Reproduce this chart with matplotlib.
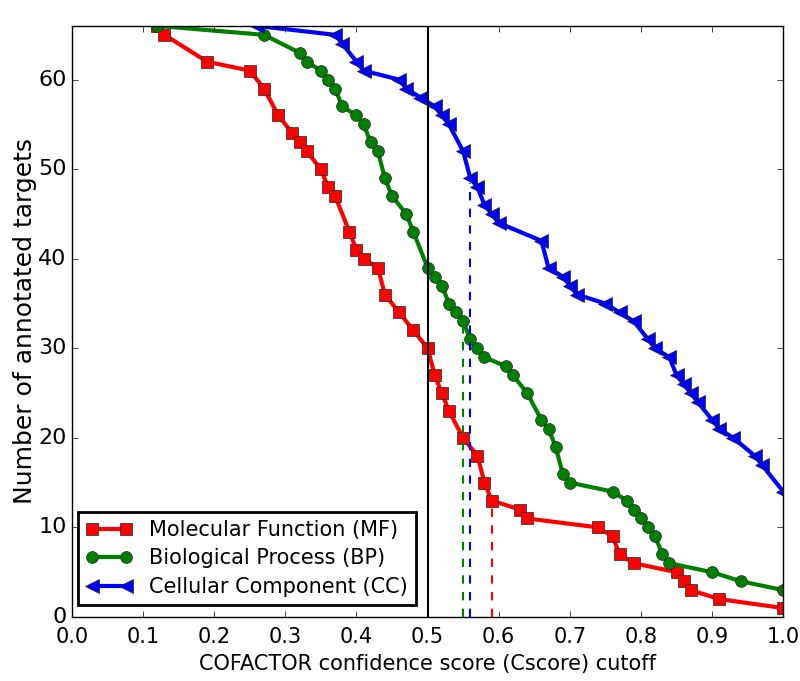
import numpy as np
import matplotlib
matplotlib.use('Agg')
import matplotlib.pyplot as plt

plt.style.use('classic')
plt.rcParams['font.family'] = ['DejaVu Sans']

# Molecular Function (MF)
mf_x = [0.12, 0.13, 0.19, 0.25, 0.27, 0.29, 0.31, 0.32, 0.33, 0.35, 0.36, 0.37, 0.39, 0.40,
        0.41, 0.43, 0.44, 0.46, 0.48, 0.50, 0.51, 0.52, 0.53, 0.55, 0.57, 0.58, 0.59, 0.63,
        0.64, 0.74, 0.76, 0.77, 0.79, 0.85, 0.86, 0.87, 0.91, 1.00]
mf_y = [66, 65, 62, 61, 59, 56, 54, 53, 52, 50, 48, 47, 43, 41,
        40, 39, 36, 34, 32, 30, 27, 25, 23, 20, 18, 15, 13, 12,
        11, 10, 9, 7, 6, 5, 4, 3, 2, 1]

# Biological Process (BP)
bp_x = [0.12, 0.27, 0.32, 0.33, 0.35, 0.36, 0.37, 0.38, 0.40, 0.41, 0.42, 0.43, 0.44, 0.45,
        0.47, 0.48, 0.50, 0.51, 0.52, 0.53, 0.54, 0.55, 0.56, 0.57, 0.58, 0.61, 0.62, 0.64,
        0.66, 0.67, 0.68, 0.69, 0.70, 0.76, 0.78, 0.79, 0.80, 0.81, 0.82, 0.83, 0.84, 0.90,
        0.94, 1.00]
bp_y = [66, 65, 63, 62, 61, 60, 59, 57, 56, 55, 53, 52, 49, 47,
        45, 43, 39, 38, 37, 35, 34, 33, 31, 30, 29, 28, 27, 25,
        22, 21, 19, 16, 15, 14, 13, 12, 11, 10, 9, 7, 6, 5,
        4, 3]

# Cellular Component (CC)
cc_x = [0.26, 0.37, 0.38, 0.40, 0.41, 0.46, 0.47, 0.49, 0.51, 0.52, 0.53, 0.55, 0.56, 0.57,
        0.58, 0.59, 0.60, 0.66, 0.67, 0.69, 0.70, 0.71, 0.75, 0.77, 0.79, 0.81, 0.82, 0.84,
        0.85, 0.86, 0.87, 0.88, 0.90, 0.91, 0.93, 0.96, 0.97, 1.00]
cc_y = [66, 65, 64, 62, 61, 60, 59, 58, 57, 56, 55, 52, 49, 48,
        46, 45, 44, 42, 39, 38, 37, 36, 35, 34, 33, 31, 30, 29,
        27, 26, 25, 24, 22, 21, 20, 18, 17, 14]

# cutoff marks (x, height)
cut_mf = (0.59, 13)
cut_bp = (0.55, 32.5)
cut_cc = (0.56, 48.5)

fig = plt.figure(figsize=(8, 6.81), dpi=100, facecolor='white')
ax = fig.add_axes([0.09, 0.094, 0.889, 0.868])

ax.plot(mf_x, mf_y, color='red', linewidth=3, marker='s', markersize=8.5,
        markerfacecolor='red', markeredgecolor='#222222', label='Molecular Function (MF)')
ax.plot(bp_x, bp_y, color='green', linewidth=3, marker='o', markersize=8.5,
        markerfacecolor='green', markeredgecolor='#222222', label='Biological Process (BP)')
ax.plot(cc_x, cc_y, color='blue', linewidth=3, marker='<', markersize=10,
        markerfacecolor='blue', markeredgecolor='#222222', label='Cellular Component (CC)')

ax.axvline(0.5, color='black', linewidth=1.5)
ax.plot([cut_mf[0], cut_mf[0]], [0, cut_mf[1]], color='red', linestyle='--', linewidth=1.5)
ax.plot([cut_bp[0], cut_bp[0]], [0, cut_bp[1]], color='green', linestyle='--', linewidth=1.5)
ax.plot([cut_cc[0], cut_cc[0]], [0, cut_cc[1]], color='blue', linestyle='--', linewidth=1.5)

ax.set_xlim(0, 1.0)
ax.set_ylim(0, 66)
ax.set_xticks(np.arange(0, 1.01, 0.1))
ax.set_yticks(range(0, 61, 10))
ax.tick_params(axis='y', labelsize=16)
ax.tick_params(axis='x', labelsize=15, pad=7)
ax.set_xlabel('COFACTOR confidence score (Cscore) cutoff', fontsize=15)
ax.set_ylabel('Number of annotated targets', fontsize=18, labelpad=1)

leg = ax.legend(loc='lower left', fontsize=15, numpoints=2, borderaxespad=0,
                bbox_to_anchor=(0.008, 0.02), labelspacing=0.4, handlelength=2.2)
leg.get_frame().set_linewidth(2)

plt.savefig('out.png', dpi=100, facecolor='white')
